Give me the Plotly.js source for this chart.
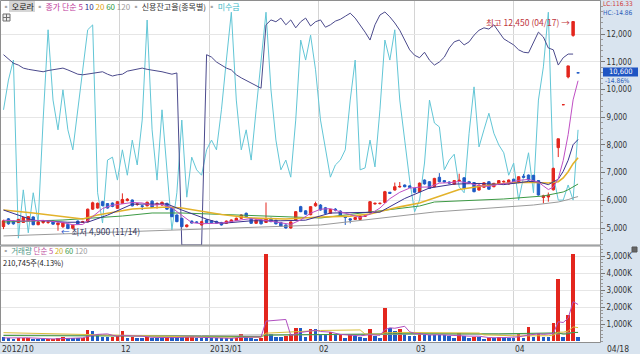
<!DOCTYPE html>
<html><head><meta charset="utf-8">
<script src="https://cdn.plot.ly/plotly-3.0.1.min.js"></script>
<style>html,body{margin:0;padding:0;background:#fff;}#chart{width:640px;height:354px;}</style>
</head><body><div id="chart"></div>
<script>
// ---------- data (daily, 2012-10-30 .. 2013-04-18, index = trading day) ----------
const openP = [5050,5330,5250,5200,5200,5260,5400,5120,5200,5200, 5250,5120,5050,5130,4990,5250,5200,5230,5680,5720,
 5950,5880,5900,5710,5890,5990,6010,5850,5800,5800, 5970,5850,5830,5890,5710,5470,5350,5050,5250,5220,
 5110,5290,5260,5240,5200,5170,5200,5270,5350,5530, 5350,5170,5290,5200,5350,5280,5200,5110,5000,5290,
 5770,5620,5480,5800,5830,5730,5530,5680,5610,5400, 5330,5310,5310,5420,5550,5870,5880,5920,6290,6370,
 6480,6550,6520,6430,6310,6730,6670,6490,6830,6710, 6660,6580,6700,6810,6670,6640,6370,6470,6670,6490,
 6590,6660,6590,6760,6640,6870,6910,6900,6710,6100, 6120,6380,7900,9450,10450,11950,10600];
const highP = [5300,5360,5270,5330,5400,5430,5420,5240,5290,5250, 5270,5200,5210,5150,5120,5270,5260,5700,5950,5920,
 5980,5900,5920,5970,6250,6080,6030,5900,5830,5950, 6000,5930,5950,5910,5730,5490,5370,5130,5270,5250,
 5260,5320,5280,5260,5220,5270,5310,5380,5490,5560, 5370,5310,5310,5920,5370,5300,5220,5130,5240,5610,
 5800,5640,5790,5950,5860,5760,5690,5720,5640,5420, 5350,5400,5450,5470,5970,5920,5920,6340,6300,6640,
 6660,6570,6540,6450,6640,6750,6690,6810,6980,6730, 6680,6730,6960,6830,6700,6660,6570,6650,6690,6630,
 6730,6720,6750,6780,6870,6950,6930,6920,6730,6200, 6280,7180,8220,9450,10850,12450,10600];
const lowP = [4960,5120,5120,5180,5180,5240,5100,5100,5150,5150, 5120,4900,5000,4960,4970,5120,5180,5200,5650,5700,
 5780,5700,5750,5690,5870,5960,5780,5800,5650,5780, 5720,5700,5800,5660,5390,5210,5030,5020,5160,5180,
 5090,5170,5170,5150,5090,5150,5180,5250,5330,5390, 5150,5150,5130,5180,5210,5130,5040,4980,4980,5270,
 5570,5480,5460,5770,5630,5510,5510,5600,5410,5110, 5170,5290,5290,5400,5530,5840,5850,5900,6230,6350,
 6460,6470,6450,6270,6290,6570,6410,6470,6650,6640, 6600,6560,6680,6410,6600,6290,6350,6450,6380,6470,
 6570,6640,6570,6600,6620,6810,6710,6660,6170,5890, 5950,6350,7560,9450,10400,11900,10600];
const closeP = [5260,5150,5150,5310,5380,5410,5120,5220,5250,5210, 5140,5180,5190,4980,5100,5140,5230,5680,5910,5890,
 5810,5720,5780,5950,6030,6040,5800,5870,5780,5930, 5740,5880,5930,5680,5410,5230,5050,5110,5180,5200,
 5230,5190,5190,5170,5110,5250,5290,5350,5470,5410, 5170,5290,5150,5340,5230,5150,5060,5000,5220,5590,
 5590,5500,5770,5880,5650,5530,5670,5650,5430,5380, 5290,5380,5430,5440,5950,5890,5890,6310,6250,6490,
 6500,6490,6470,6290,6620,6590,6430,6790,6670,6660, 6620,6710,6720,6430,6620,6310,6550,6630,6400,6610,
 6710,6680,6730,6620,6850,6830,6730,6680,6190,6160, 6180,7150,8220,9450,10850,12450,10600];
// volume in thousands of shares
const volumeK = [255,196,137,157,196,200,137,98,98,137, 140,176,235,196,157,157,176,647,569,392,
 235,235,255,294,569,196,255,196,196,255, 176,176,176,235,216,216,216,235,294,196,
 196,176,157,157,157,157,157,176,431,255, 196,137,157,5100,431,255,255,294,431,765,
 765,255,725,686,353,333,530,333,392,176, 392,294,255,196,725,294,196,1920,745,588,
 686,392,294,294,490,333,333,333,333,333, 294,176,490,294,176,235,235,137,196,157,
 235,235,196,157,392,157,843,235,490,235, 235,1040,3667,255,1510,5098,210.745];
// 신용잔고율 (%)
const creditRatio = [3.12,3.05,2.98,2.95,2.90,2.88,2.87,2.85,2.84,2.86, 2.87,2.89,2.90,2.87,2.84,2.80,2.79,2.80,2.82,2.83,
 2.84,2.80,2.77,2.79,2.80,2.85,2.87,2.89,2.90,2.88, 2.87,2.85,2.84,2.82,2.80,2.82,0,0,0,0,
 0,3.12,3.08,3.00,2.95,2.90,2.87,2.79,2.74,2.70, 2.66,2.62,2.57,3.61,3.69,3.66,3.72,3.61,3.69,3.56,
 3.66,3.72,3.59,3.66,3.69,3.57,3.61,3.67,3.70,3.75, 3.80,3.72,3.61,3.49,3.36,3.61,3.77,3.82,3.74,3.64,
 3.52,3.36,3.20,3.11,3.07,3.16,3.03,2.95,3.00,3.08, 3.23,3.33,3.36,3.28,3.33,3.44,3.52,3.56,3.54,3.61,
 3.49,3.38,3.33,3.28,3.20,3.16,3.15,3.33,3.49,3.41, 3.23,3.20,2.95,3.07,3.13,3.13,null];
// 미수금 (relative units)
const misu = [27.7,33.8,37.9,1.4,11.3,2.5,10.7,4.7,25.6,44.1, 29.7,23.6,31.8,23.6,19.5,27.7,35.9,44.1,45.1,10.7,
 4.5,17.4,18.0,13.3,19.5,14.3,21.5,16.4,25.6,46.1, 23.6,13.3,27.7,15.4,3.1,10.7,25.6,9.8,18.0,15.4,
 14.3,19.5,21.5,19.5,27.7,37.9,47.7,29.7,19.5,23.6, 17.4,27.7,37.9,47.7,31.8,21.5,15.4,17.4,13.9,25.6,
 42.0,37.9,43.0,35.9,25.6,19.5,13.9,16.4,17.4,19.5, 29.7,37.9,15.4,15.8,21.5,16.0,27.7,42.0,37.9,44.1,
 29.7,21.5,13.3,6.8,9.2,16.8,29.7,25.0,24.2,15.4, 17.4,18.6,11.9,10.7,22.9,32.4,20.1,23.6,27.0,22.9,
 20.5,18.9,14.3,16.8,9.2,13.9,18.9,10.7,29.7,36.5, 47.7,14.3,9.2,9.2,12.3,9.2,23.6];

// price moving averages (day index, value)
const ma5Idx = [0,4,8,12,14,16,18,20,22,24,26,28,30,32,34,36,38,40,44,48,50,52,54,56,58,60,62,64,66,68,70,72,74,76,78,80,82,84,86,88,90,92,94,96,98,100,102,104,106,108,109,110,111,112,113,114,115,116];
const ma5Val = [5280,5250,5276,5194,5118,5128,5412,5704,5822,5858,5920,5904,5824,5852,5728,5460,5196,5154,5178,5294,5338,5298,5236,5186,5132,5292,5534,5678,5700,5586,5484,5382,5498,5720,6058,6288,6440,6474,6480,6620,6634,6676,6620,6526,6502,6580,6626,6718,6752,6656,6518,6388,6472,6780,7432,8370,9624,10314];
const ma10Idx = [0,6,13,17,21,26,30,33,36,38,41,44,50,56,61,66,71,76,81,86,91,96,101,106,108,110,112,113,114,115,116];
const ma10Val = [5650,5280,5208,5210,5465,5861,5864,5868,5650,5514,5321,5166,5260,5262,5283,5540,5563,5573,6064,6444,6585,6608,6566,6680,6663,6565,6761,7044,7444,8006,8193];
const ma20Idx = [0,6,16,19,26,33,36,40,44,50,57,64,70,74,80,84,92,98,102,106,110,112,113,114,115,116];
const ma20Val = [5650,5540,5325,5470,5686,5758,5722,5600,5486,5361,5325,5397,5430,5506,5764,5903,6389,6550,6624,6650,6624,6672,6809,7030,7321,7536];
const ma60Idx = [0,12,24,30,36,48,60,64,84,87,101,109,112,113,114,115,116];
const ma60Val = [5217,5289,5433,5542,5542,5470,5397,5361,5794,5939,6047,6155,6264,6300,6380,6480,6588];
const ma120Idx = [0,12,24,36,48,60,64,87,107,112,113,114,115,116];
const ma120Val = [4714,4784,4856,4928,5000,5073,5109,5578,5830,5939,5976,6025,6087,6134];

// volume moving averages (thousands)
const vma5Idx = [0,5,10,15,16,17,18,19,20,21,22,23,24,26,28,30,34,38,42,46,48,50,52,53,54,55,56,57,58,59,60,62,63,64,66,68,70,72,74,76,77,78,79,80,81,82,83,84,86,88,90,92,94,96,98,100,102,104,106,108,109,110,111,112,113,114,115,116];
const vma5Val = [180,188,121,184,184,267,341,388,404,416,337,282,318,314,282,216,196,235,196,157,216,243,235,1169,1204,1216,1240,1267,333,400,502,588,639,557,525,388,365,302,372,333,666,776,749,827,866,541,451,431,349,364,325,325,286,282,200,192,204,243,349,423,392,408,447,1133,1086,1341,2314,2148];
const vma20Idx = [0,10,20,30,40,52,53,60,64,72,73,76,77,80,86,96,97,104,110,111,112,113,114,115,116];
const vma20Val = [490,420,330,300,230,215,460,560,620,651,406,400,480,504,500,470,360,300,310,345,520,520,580,830,788];
const vma60Idx = [0,30,52,53,64,80,100,112,113,114,115,116];
const vma60Val = [320,290,260,345,390,430,420,480,400,425,505,505];
const vma120Idx = [0,40,53,80,112,115,116];
const vma120Val = [350,320,360,380,420,500,500];

// axis labels
const monthTickIdx = [-0.5, 23.5, 41.5, 63.5, 83, 103];
const monthTickText = ['2012/10','12','2013/01','02','03','04'];
const lastDateText = '04/18';
const highDateText = '04/17';
const lowDateText = '11/14';
const turnoverText = '(4.13%)';
const priceTicks = [5000,6000,7000,8000,9000,10000,11000,12000];
const volTickVals = [1000,2000,3000,4000,5000];
const volTickText = ['1,000K','2,000K','3,000K','4,000K','5,000K'];

// ---------- drawing ----------
const FONT = '"Noto Sans CJK KR","Noto Sans",sans-serif';
const NARROW = '"Liberation Sans Narrow","DejaVu Sans Condensed","Liberation Sans",sans-serif';
const RED = '#e3261d', BLUE = '#1f5bc6';
const N = closeP.length;
const idx = Array.from({length:N}, (_, i) => i);
const fmt = v => Math.round(v).toLocaleString('en-US');

// pixel helpers (plot area x 1..600, y 1..342)
const X = px => (px - 1) / 599;
const Y = py => (342 - py) / 341;
const mainBottom = Y(245), volTop = Y(246);

const lastClose = closeP[N-1], prevClose = closeP[N-2];
const maxHigh = Math.max(...highP), minLow = Math.min(...lowP);
const hiIdx = highP.indexOf(maxHigh), loIdx = lowP.indexOf(minLow);
const chgPct = (lastClose / prevClose - 1) * 100;
const lc = (lastClose / minLow - 1) * 100;
const hc = (lastClose / maxHigh - 1) * 100;

const volColors = volumeK.map((v, i) => (i > 0 && v > volumeK[i-1]) ? RED : BLUE);

const line = (x, y, color, width, yaxis) => ({type:'scatter', mode:'lines', x, y, xaxis:'x', yaxis,
  line:{color, width}, hoverinfo:'skip', connectgaps:false});

const traces = [
  line(idx, misu, '#62c6d6', 1, 'y'),
  line(idx, creditRatio, '#4b4a8c', 1, 'y3'),
  {type:'candlestick', x:idx, open:openP, high:highP, low:lowP, close:closeP, xaxis:'x', yaxis:'y4',
    increasing:{line:{color:RED, width:1}, fillcolor:RED},
    decreasing:{line:{color:BLUE, width:1}, fillcolor:BLUE},
    whiskerwidth:0, hoverinfo:'skip'},
  line(ma120Idx, ma120Val, '#9a9a9a', 1, 'y4'),
  line(ma60Idx, ma60Val, '#3d9a45', 1, 'y4'),
  line(ma20Idx, ma20Val, '#e3b22a', 1.6, 'y4'),
  line(ma10Idx, ma10Val, '#3a3290', 1, 'y4'),
  line(ma5Idx, ma5Val, '#c04fc4', 1, 'y4'),
  {type:'bar', x:idx, y:volumeK, xaxis:'x', yaxis:'y2', width:0.72,
    marker:{color:volColors, line:{width:0}}, hoverinfo:'skip'},
  line(vma120Idx, vma120Val, '#a0a0a0', 1, 'y2'),
  line(vma60Idx, vma60Val, '#3d9a45', 1, 'y2'),
  line(vma20Idx, vma20Val, '#d8be3a', 1, 'y2'),
  line(vma5Idx, vma5Val, '#b04fc0', 1, 'y2')
];

const txt = (text, px, py, color, size, anchor, family) => ({xref:'paper', yref:'paper', x:X(px), y:Y(py), text,
  showarrow:false, xanchor:anchor || 'left', yanchor:'middle', borderpad:0,
  font:{family:family || FONT, size:size || 9, color}});
const sp = (t, c) => '<span style="color:' + c + '">' + t + '</span>';
const SQ = sp('▪', '#a8a8a8');

const legendMain = SQ + ' ' + sp('오로라', '#111') + ' ' + SQ + ' ' + sp('종가 단순 5', '#c0399a') + ' ' +
  sp('10', '#2c2c8c') + ' ' + sp('20', '#e0a010') + ' ' + sp('60', '#2e9a3e') + ' ' + sp('120', '#9a9a9a') + ' ' +
  SQ + ' ' + sp('신용잔고율(종목별)', '#333') + ' ' + SQ + ' ' + sp('미수금', '#3ab8c8');
const legendVol = SQ + ' ' + sp('거래량', '#4a9484') + ' ' + sp('단순 5', '#c050a0') + ' ' +
  sp('20', '#d0b020') + ' ' + sp('60', '#3a9a4a') + ' ' + sp('120', '#9a9a9a');

const annotations = [
  txt(legendMain, 1, 6.5, '#333', 8),
  txt(legendVol, 1, 250.5, '#333', 7.5),
  txt(fmt(volumeK[N-1] * 1000) + '주' + turnoverText, 2, 262, '#222', 7.5),
  txt('LC:' + lc.toFixed(2), 602, 4, '#d03a3a', 6.5, 'left', NARROW),
  txt('HC:' + hc.toFixed(2), 602, 13, '#2a5cb8', 6.5, 'left', NARROW),
  txt(fmt(lastClose), 620.5, 71.8, '#ffffff', 7.5, 'center', NARROW),
  txt(chgPct.toFixed(2) + '%', 604, 80.6, '#2a5cb8', 6.5, 'left', NARROW),
  txt(lastDateText, 606, 348.5, '#333', 8.5, 'left', NARROW),
  {xref:'x', yref:'y4', x:hiIdx - 0.5, y:maxHigh, text:'최고 ' + fmt(maxHigh) + ' (' + highDateText + ') →',
    showarrow:false, xanchor:'right', yanchor:'middle', borderpad:0, font:{family:FONT, size:8.5, color:'#c0343c'}},
  {xref:'x', yref:'y4', x:loIdx + 0.45, y:minLow,
    text:sp('←', '#2450c8') + ' 최저 ' + fmt(minLow) + ' (' + lowDateText + ')',
    showarrow:false, xanchor:'left', yanchor:'middle', borderpad:0, font:{family:FONT, size:8.5, color:'#353a60'}}
];
monthTickIdx.forEach((t, k) => annotations.push({xref:'x', yref:'paper', x:t, y:Y(348.5), text:monthTickText[k],
  showarrow:false, xanchor:'left', yanchor:'middle', borderpad:0, font:{family:NARROW, size:8.5, color:'#333'}}));

const rect = (x0, y0, x1, y1, fill, lineColor, layer) => ({type:'rect', xref:'paper', yref:'paper',
  x0:X(x0), x1:X(x1), y0:Y(y1), y1:Y(y0), fillcolor:fill, layer:layer || 'above',
  line:{color:lineColor || 'rgba(0,0,0,0)', width:lineColor ? 1 : 0}});

const shapes = [
  rect(9, 1, 35, 12, '#d6d6d6', null, 'below'),
  rect(0.5, 0.5, 600.5, 245, 'rgba(0,0,0,0)', '#8e8e8e'),
  rect(0.5, 246, 600.5, 342.5, 'rgba(0,0,0,0)', '#8e8e8e'),
  rect(603, 67.5, 638, 76.5, '#1f55c3'),
  rect(3, 14, 10, 21, '#eeeeee', '#707070'),
  {type:'line', xref:'paper', yref:'paper', x0:X(3), x1:X(10), y0:Y(17.5), y1:Y(17.5), line:{color:'#707070', width:1}},
  {type:'line', xref:'paper', yref:'paper', x0:X(6.5), x1:X(6.5), y0:Y(14), y1:Y(21), line:{color:'#707070', width:1}},
  rect(632, 247, 637, 252, '#666666', '#555555')
];

const axTick = {ticks:'outside', ticklen:4, tickcolor:'#777', showgrid:true, gridcolor:'#e6e6e6',
  zeroline:false, showline:false, tickfont:{family:NARROW, size:8, color:'#333'}, fixedrange:true};

const layout = {
  width:640, height:354,
  margin:{l:1, r:40, t:1, b:12, pad:0},
  paper_bgcolor:'#d9e4ef', plot_bgcolor:'#ffffff',
  showlegend:false, bargap:0,
  font:{family:FONT, size:9, color:'#333'},
  xaxis:{domain:[0,1], anchor:'y2', range:[-0.505, 120.43], showgrid:true, gridcolor:'#d4d4d4',
    tickmode:'array', tickvals:monthTickIdx.slice(1), showticklabels:false, ticks:'', zeroline:false,
    showline:false, rangeslider:{visible:false}, fixedrange:true},
  yaxis:{domain:[mainBottom, 1], range:[0, 50], visible:false, fixedrange:true},
  yaxis3:{overlaying:'y', range:[0, 4], visible:false, fixedrange:true},
  yaxis4:Object.assign({overlaying:'y', side:'right', anchor:'x', range:[4387, 13191],
    tickmode:'array', tickvals:priceTicks, tickformat:',d',
    minor:{ticks:'outside', ticklen:2, tickcolor:'#9a9a9a', tickmode:'linear', tick0:0, dtick:200, showgrid:false}}, axTick),
  yaxis2:Object.assign({domain:[0, volTop], side:'right', anchor:'x', range:[-59, 5588],
    tickmode:'array', tickvals:volTickVals, ticktext:volTickText,
    minor:{ticks:'outside', ticklen:2, tickcolor:'#9a9a9a', tickmode:'linear', tick0:0, dtick:200, showgrid:false}}, axTick),
  shapes, annotations
};

Plotly.newPlot('chart', traces, layout, {staticPlot:true, displayModeBar:false});
</script>
</body></html>
